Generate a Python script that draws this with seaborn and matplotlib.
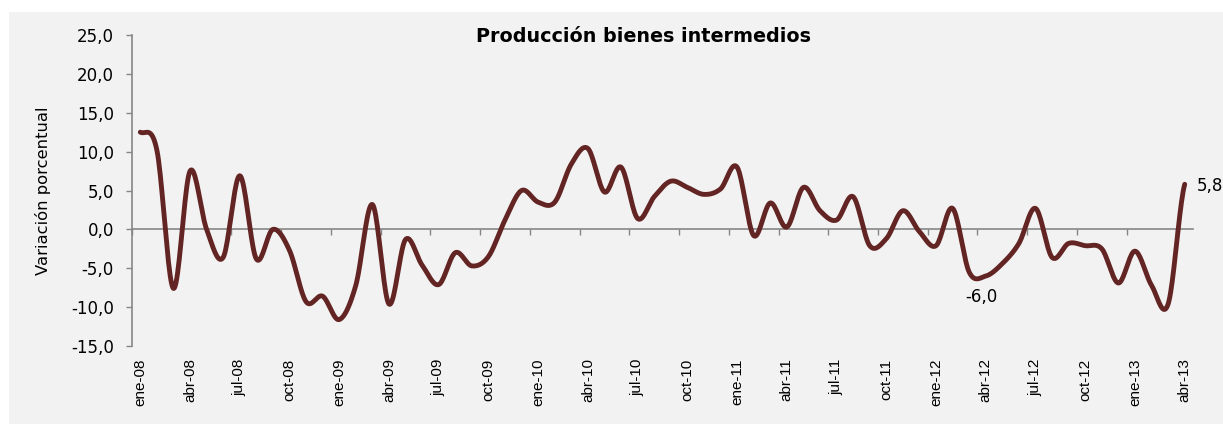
import numpy as np
import seaborn as sns
import matplotlib.pyplot as plt
from matplotlib.patches import Rectangle

# variación porcentual mensual, ene-08 .. abr-13
valores = [12.5, 10.2, -7.6, 7.5, 0.0, -3.6, 6.9, -3.8, 0.0, -2.7, -9.3, -8.6,
           -11.6, -7.2, 3.2, -9.6, -1.3, -4.6, -7.1, -3.0, -4.7, -3.5, 1.2, 5.0,
           3.5, 3.5, 8.4, 10.4, 4.8, 8.0, 1.4, 4.2, 6.2, 5.4, 4.5, 5.2,
           8.0, -0.8, 3.4, 0.3, 5.4, 2.4, 1.2, 4.2, -2.1, -1.2, 2.4, -0.3,
           -2.1, 2.7, -5.5, -6.0, -4.4, -1.8, 2.7, -3.6, -1.8, -2.1, -2.5, -6.9,
           -2.8, -7.2, -9.6, 5.8]
etiquetas = ["ene-08", "abr-08", "jul-08", "oct-08", "ene-09", "abr-09", "jul-09",
             "oct-09", "ene-10", "abr-10", "jul-10", "oct-10", "ene-11", "abr-11",
             "jul-11", "oct-11", "ene-12", "abr-12", "jul-12", "oct-12", "ene-13",
             "abr-13"]
y_ticks = [-15, -10, -5, 0, 5, 10, 15, 20, 25]

color_linea = "#632523"
gris = "#868686"

sns.set_style("white")
plt.rcParams["font.family"] = ["DejaVu Sans"]
plt.rcParams["text.color"] = "black"
plt.rcParams["axes.labelcolor"] = "black"
plt.rcParams["xtick.labelcolor"] = "black"
plt.rcParams["ytick.labelcolor"] = "black"

n = len(valores)
x = np.arange(n)
y = np.array(valores)

# suavizado tipo Excel (Catmull-Rom) que pasa por cada punto
yp = np.concatenate([[y[0]], y, [y[-1]]])
t = np.linspace(0, 1, 20, endpoint=False)
xs, ys = [], []
for i in range(n - 1):
    p0, p1, p2, p3 = yp[i], yp[i + 1], yp[i + 2], yp[i + 3]
    seg = 0.5 * ((2 * p1) + (-p0 + p2) * t + (2 * p0 - 5 * p1 + 4 * p2 - p3) * t ** 2
                 + (-p0 + 3 * p1 - 3 * p2 + p3) * t ** 3)
    xs.extend(i + t)
    ys.extend(seg)
xs.append(n - 1)
ys.append(y[-1])

fig = plt.figure(figsize=(12.23, 4.24), dpi=100)
fig.patch.set_facecolor("white")
fig.patches.append(Rectangle((9 / 1223, 0), 1 - 9 / 1223, 1 - 12 / 424,
                             transform=fig.transFigure, facecolor="#f2f2f2",
                             edgecolor="none", zorder=-5))
ax = fig.add_axes([132 / 1223, 1 - 346 / 424, 1061 / 1223, 311 / 424])
ax.set_facecolor("#f2f2f2")

sns.lineplot(x=xs, y=ys, ax=ax, color=color_linea, linewidth=3.5, zorder=3)
ax.lines[-1].set_solid_capstyle("round")

ax.set_xlim(-0.5, n - 0.5)
ax.set_ylim(-15, 25)
ax.set_yticks(y_ticks)
ax.set_yticklabels([f"{v:.1f}".replace(".", ",") for v in y_ticks], fontsize=12)
ax.tick_params(axis="y", direction="out", length=4, width=1, color=gris, pad=9,
               left=True, labelcolor="black")

for s in ["top", "right", "bottom"]:
    ax.spines[s].set_visible(False)
ax.spines["left"].set_color(gris)
ax.spines["left"].set_linewidth(1.2)

# etiquetas de meses abajo
ax.set_xticks(np.arange(0, n, 3))
ax.set_xticklabels(etiquetas, rotation=90, fontsize=11,
                   family=["Liberation Sans", "DejaVu Sans"])
ax.tick_params(axis="x", length=0, pad=9, bottom=True, labelcolor="black")

# eje en cero con marcas
eje0 = ax.secondary_xaxis(15 / 40)
eje0.set_xticks(np.arange(-0.5, n, 3))
eje0.set_xticklabels([])
eje0.tick_params(axis="x", direction="out", length=4, width=1, color=gris)
eje0.spines["bottom"].set_color(gris)
eje0.spines["bottom"].set_linewidth(1.2)
eje0.set_zorder(2)

ax.set_ylabel("Variación porcentual", fontsize=11.8, color="black")
ax.yaxis.set_label_coords(-0.076, 0.5)

fig.text(643 / 1223, 1 - 36 / 424, "Producción bienes intermedios",
         ha="center", va="center", fontsize=13.8, fontweight="bold", color="black")

i_min = 51
ax.annotate(f"{valores[i_min]:.1f}".replace(".", ","), (i_min, valores[i_min]),
            xytext=(-3, -15), textcoords="offset points", ha="center", va="center",
            fontsize=12, color="black")
ax.annotate(f"{valores[-1]:.1f}".replace(".", ","), (n - 1, valores[-1]),
            xytext=(9, -1), textcoords="offset points", ha="left", va="center",
            fontsize=12, color="black", annotation_clip=False)

plt.savefig("out.png", dpi=100)
plt.close()
